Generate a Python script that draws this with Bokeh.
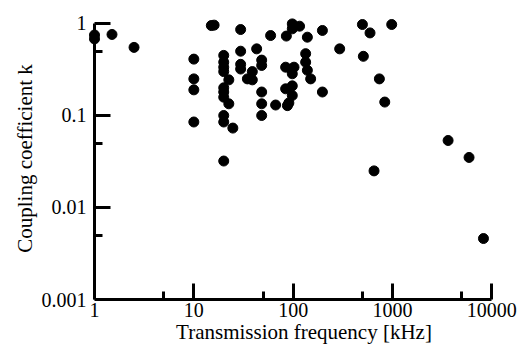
from bokeh.plotting import figure
from bokeh.models import FixedTicker, NumeralTickFormatter, Range1d, LogAxis
from bokeh.embed import file_html
from bokeh.resources import INLINE

# ---- data ----
freq_khz = [1, 1, 1.5, 2.5,
            10, 10, 10, 10,
            15, 16,
            20, 20, 20, 20, 20, 20, 20, 20, 20, 20,
            22.5, 22.5, 24.7,
            29.6, 29.6, 29.6, 29.6,
            34.6, 38.8, 38.8, 42.9,
            48.2, 48.2, 48.2, 48.2, 48.2,
            59.3, 66.6,
            84, 84, 85.4, 87.5, 90.5, 94.5,
            98, 98, 98, 98, 98, 102, 116,
            133.6, 133.6, 139, 139, 150,
            197, 197, 294,
            498, 509, 594, 652, 738, 836, 982,
            3630, 5900, 8240]
coupling_k = [0.75, 0.68, 0.76, 0.55,
              0.41, 0.25, 0.19, 0.085,
              0.95, 0.96,
              0.45, 0.38, 0.335, 0.30, 0.20, 0.18, 0.158, 0.10, 0.085, 0.032,
              0.244, 0.134, 0.073,
              0.86, 0.50, 0.36, 0.32,
              0.25, 0.30, 0.244, 0.53,
              0.40, 0.35, 0.18, 0.134, 0.10,
              0.74, 0.13,
              0.335, 0.195, 0.73, 0.128, 0.137, 0.32,
              0.99, 0.875, 0.284, 0.21, 0.165, 0.335, 0.935,
              0.47, 0.38, 0.71, 0.31, 0.25,
              0.84, 0.18, 0.53,
              0.975, 0.44, 0.79, 0.025, 0.25, 0.14, 0.975,
              0.0535, 0.035, 0.0046]

x_major_ticks = [1, 10, 100, 1000, 10000]
x_minor_ticks = [5, 50, 500, 5000]
y_major_ticks = [0.001, 0.01, 0.1, 1]
y_minor_ticks = [0.005, 0.05, 0.5]

x_title = "Transmission frequency [kHz]"
y_title = "Coupling coefficient k"

FONT = "Liberation Serif"

p = figure(width=521, height=347,
           x_axis_type="log", y_axis_type="log",
           x_range=Range1d(0.87, 19000), y_range=Range1d(0.001, 1.162),
           output_backend="svg", toolbar_location=None,
           min_border_left=88, min_border_right=2,
           min_border_top=17, min_border_bottom=48)

p.outline_line_color = None
p.xgrid.visible = False
p.ygrid.visible = False
p.background_fill_color = "white"
p.border_fill_color = "white"

p.scatter(freq_khz, coupling_k, size=10, color="black")

xa = p.xaxis[0]
ya = p.yaxis[0]
for ax in (xa, ya):
    ax.axis_line_width = 3
    ax.axis_line_color = "black"
    ax.major_tick_in = 16
    ax.major_tick_out = 0
    ax.minor_tick_in = 8
    ax.minor_tick_out = 0
    ax.major_tick_line_width = 3
    ax.minor_tick_line_width = 3
    ax.major_tick_line_color = "black"
    ax.minor_tick_line_color = "black"

xa.ticker = FixedTicker(ticks=x_major_ticks, minor_ticks=x_minor_ticks)
ya.ticker = FixedTicker(ticks=y_major_ticks, minor_ticks=y_minor_ticks)
xa.formatter = NumeralTickFormatter(format="0")
xa.bounds = (x_major_ticks[0], x_major_ticks[-1])
xa.major_label_text_font = FONT
xa.major_label_text_font_size = "20px"
xa.major_label_text_color = "black"
xa.major_label_standoff = 3
xa.axis_label = x_title
xa.axis_label_text_font = FONT
xa.axis_label_text_font_size = "21px"
xa.axis_label_text_font_style = "normal"
xa.axis_label_text_color = "black"
xa.axis_label_standoff = 0

# y axis line and ticks sit at x = 1 (inside a slightly padded frame)
ya.bounds = (y_major_ticks[0], y_major_ticks[-1])
ya.fixed_location = x_major_ticks[0]
ya.major_label_text_font_size = "1px"
ya.major_label_text_alpha = 0
ya.major_label_standoff = 0

# second left axis carries the y tick labels and the y title
yl = LogAxis(ticker=FixedTicker(ticks=y_major_ticks, minor_ticks=y_minor_ticks),
             formatter=NumeralTickFormatter(format="0.[000]"))
yl.axis_line_color = None
yl.major_tick_line_color = None
yl.minor_tick_line_color = None
yl.major_tick_in = 0
yl.major_tick_out = 0
yl.minor_tick_in = 0
yl.minor_tick_out = 0
yl.major_label_text_font = FONT
yl.major_label_text_font_size = "20px"
yl.major_label_text_color = "black"
yl.major_label_standoff = 2
yl.axis_label = y_title
yl.axis_label_text_font = FONT
yl.axis_label_text_font_size = "21px"
yl.axis_label_text_font_style = "normal"
yl.axis_label_text_color = "black"
yl.axis_label_standoff = 2
p.add_layout(yl, "left")

open("out.html", "w").write(file_html(p, INLINE))
